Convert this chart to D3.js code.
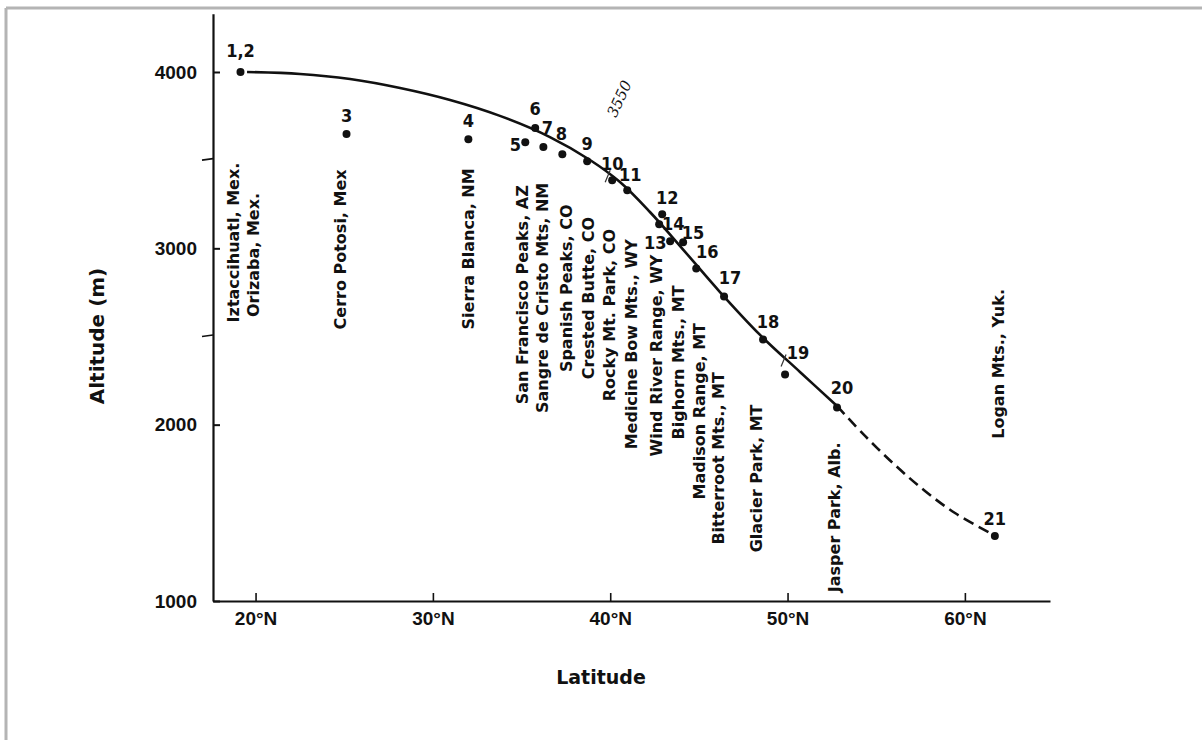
<!DOCTYPE html>
<html>
<head>
<meta charset="utf-8">
<script src="https://cdn.jsdelivr.net/npm/d3@7"></script>
<style>
  html, body { margin: 0; padding: 0; background: #fff; }
  svg { display: block; }
  text { fill: #111; }
</style>
</head>
<body>
<svg id="chart" width="1202" height="740"></svg>
<script>
// ---------------- DATA ----------------
// Observed sites (latitude °N, altitude m)
const siteNumbers = ["1,2","3","4","5","6","7","8","9","10","11","12","13","14","15","16","17","18","19","20","21"];
const siteLat = [19.15, 25.13, 32.0, 35.21, 35.77, 36.23, 37.30, 38.70, 40.11, 40.96, 42.93, 43.38, 42.76, 44.11, 44.85, 46.42, 48.62, 49.86, 52.79, 61.69];
const siteAlt = [4000, 3648, 3619, 3602, 3682, 3574, 3534, 3494, 3386, 3330, 3193, 3040, 3136, 3034, 2886, 2727, 2483, 2284, 2097, 1369];

// Fitted trend (solid) and extrapolated part (dashed)
const trendLat = [19.52, 22.51, 25.33, 28.15, 30.97, 33.78, 36.60, 38.86, 40.55, 42.24, 43.94, 46.19, 48.45, 50.70, 52.79];
const trendAlt = [4000, 3989, 3960, 3909, 3841, 3751, 3631, 3501, 3376, 3206, 3013, 2752, 2509, 2299, 2106];
const extrapLat = [52.79, 54.37, 56.06, 57.75, 59.44, 61.42];
const extrapAlt = [2106, 1936, 1771, 1624, 1499, 1386];

// Site names (written vertically) and the latitude / altitude where each name starts
const siteNames = ["Iztaccihuatl, Mex.", "Orizaba, Mex.", "Cerro Potosi, Mex", "Sierra Blanca, NM",
  "San Francisco Peaks, AZ", "Sangre de Cristo Mts, NM", "Spanish Peaks, CO", "Crested Butte, CO",
  "Rocky Mt. Park, CO", "Medicine Bow Mts., WY", "Wind River Range, WY", "Bighorn Mts., MT",
  "Madison Range, MT", "Bitterroot Mts., MT", "Glacier Park, MT", "Jasper Park, Alb.", "Logan Mts., Yuk."];
const nameLat = [18.76, 19.87, 24.78, 32.0, 35.03, 36.15, 37.51, 38.75, 39.94, 41.18, 42.59, 43.83, 45.01, 46.08, 48.22, 52.62, 61.86];
const nameAlt = [2580, 2610, 2540, 2540, 2116, 2066, 2298, 2258, 2133, 1860, 1820, 1916, 1576, 1320, 1276, 1050, 1920];

// Axis ticks
const yTicks = [1000, 2000, 3000, 4000];
const yMinorTicks = [2500, 3500];
const xTicks = [20, 30, 40, 50, 60];
const xTickLabels = ["20°N", "30°N", "40°N", "50°N", "60°N"];

// ---------------- LAYOUT ----------------
// offsets (px) of each site number from its dot
const numOffsets = [[0,-21],[0,-19],[0,-19],[-10,2],[0,-20],[4,-20],[-1,-21],[0,-18],[0,-17],[3,-16],
  [5,-17],[-15,1],[14,-1],[10,-10],[11,-17],[6,-19],[5,-18],[13,-22],[5,-20],[0,-17]];

const svg = d3.select("#chart");
const W = 1202, H = 740;

// frame of the scanned page
svg.append("line").attr("x1", 6).attr("y1", 8).attr("x2", W).attr("y2", 8)
  .attr("stroke", "#b4b4b4").attr("stroke-width", 3);
svg.append("line").attr("x1", 6).attr("y1", 8).attr("x2", 6).attr("y2", H)
  .attr("stroke", "#b4b4b4").attr("stroke-width", 3);

const x = d3.scaleLinear().domain([17.6, 64.8]).range([213, 1050]);
const y = d3.scaleLinear().domain([1000, 4330]).range([601, 13.8]);

const font = "'DejaVu Sans', Verdana, sans-serif";
const helv = "'Liberation Sans', Arial, Helvetica, sans-serif";
const narrow = "'Liberation Sans Narrow', 'DejaVu Sans Condensed', 'Arial Narrow', sans-serif";

// Y axis
const yAxis = svg.append("g").attr("transform", `translate(${x.range()[0]},0)`)
  .call(d3.axisLeft(y).tickValues(yTicks).tickSizeInner(-7).tickSizeOuter(0).tickPadding(16).tickFormat(d3.format("d")));
yAxis.select(".domain").attr("stroke", "#111").attr("stroke-width", 2.2);
yAxis.selectAll(".tick line").attr("stroke", "#111").attr("stroke-width", 2);
yAxis.selectAll(".tick text").attr("font-family", helv).attr("font-weight", "bold")
  .attr("font-size", 19).attr("fill", "#111");
svg.append("g").selectAll("line").data(yMinorTicks).join("line")
  .attr("x1", x.range()[0] - 11).attr("x2", x.range()[0])
  .attr("y1", d => y(d)).attr("y2", d => y(d) - 1.5)
  .attr("stroke", "#111").attr("stroke-width", 1.6);

// X axis
const xAxis = svg.append("g").attr("transform", `translate(0,${y.range()[0]})`)
  .call(d3.axisBottom(x).tickValues(xTicks).tickSizeInner(-8).tickSizeOuter(0).tickPadding(11)
    .tickFormat((d, i) => xTickLabels[i]));
xAxis.select(".domain").attr("stroke", "#111").attr("stroke-width", 2.2);
xAxis.selectAll(".tick line").attr("stroke", "#111").attr("stroke-width", 1.6);
xAxis.selectAll(".tick text").attr("font-family", helv).attr("font-weight", "bold")
  .attr("font-size", 19).attr("fill", "#111");

// Axis titles
svg.append("text").attr("x", 601).attr("y", 684).attr("text-anchor", "middle")
  .attr("font-family", font).attr("font-weight", "bold").attr("font-size", 19).text("Latitude");
svg.append("text").attr("transform", "translate(104,336) rotate(-90)").attr("text-anchor", "middle")
  .attr("font-family", font).attr("font-weight", "bold").attr("font-size", 20).text("Altitude (m)");

// Curves
const line = d3.line().x(d => x(d[0])).y(d => y(d[1])).curve(d3.curveCatmullRom.alpha(0.5));
svg.append("path").datum(trendLat.map((d, i) => [d, trendAlt[i]]))
  .attr("d", line).attr("fill", "none").attr("stroke", "#111").attr("stroke-width", 2.6);
svg.append("path").datum(extrapLat.map((d, i) => [d, extrapAlt[i]]))
  .attr("d", line).attr("fill", "none").attr("stroke", "#111").attr("stroke-width", 2.6)
  .attr("stroke-dasharray", "11,6");

// Points
const sites = siteLat.map((d, i) => ({ lat: d, alt: siteAlt[i], num: siteNumbers[i], off: numOffsets[i] }));
svg.append("g").selectAll("circle").data(sites).join("circle")
  .attr("cx", d => x(d.lat)).attr("cy", d => y(d.alt)).attr("r", 4).attr("fill", "#111");
svg.append("g").selectAll("text").data(sites).join("text")
  .attr("x", d => x(d.lat) + d.off[0]).attr("y", d => y(d.alt) + d.off[1])
  .attr("dy", "0.36em").attr("text-anchor", "middle")
  .attr("font-family", narrow).attr("font-weight", "bold").attr("font-size", 18)
  .text(d => d.num);

// Vertical site names
svg.append("g").selectAll("text").data(siteNames).join("text")
  .attr("transform", (d, i) => `translate(${x(nameLat[i])},${y(nameAlt[i])}) rotate(-90)`)
  .attr("dy", "0.36em").attr("text-anchor", "start")
  .attr("font-family", font).attr("font-weight", "bold").attr("font-size", 16)
  .text(d => d);

// handwritten annotation
svg.append("text").attr("transform", "translate(624,101) rotate(-65)").attr("text-anchor", "middle")
  .attr("font-family", "'DejaVu Serif', serif").attr("font-style", "italic").attr("font-size", 15)
  .attr("fill", "#222").text("3550");
// pencil strokes across the curve
[[40.11, 3386], [49.86, 2284]].forEach(([la, al], k) => {
  const cx = x(la) - (k ? 1 : 4), cy = y(al) - (k ? 14 : 4);
  svg.append("line").attr("x1", cx - 3).attr("y1", cy + 6).attr("x2", cx + 2).attr("y2", cy - 6)
    .attr("stroke", "#333").attr("stroke-width", 1.2);
});
</script>
</body>
</html>
